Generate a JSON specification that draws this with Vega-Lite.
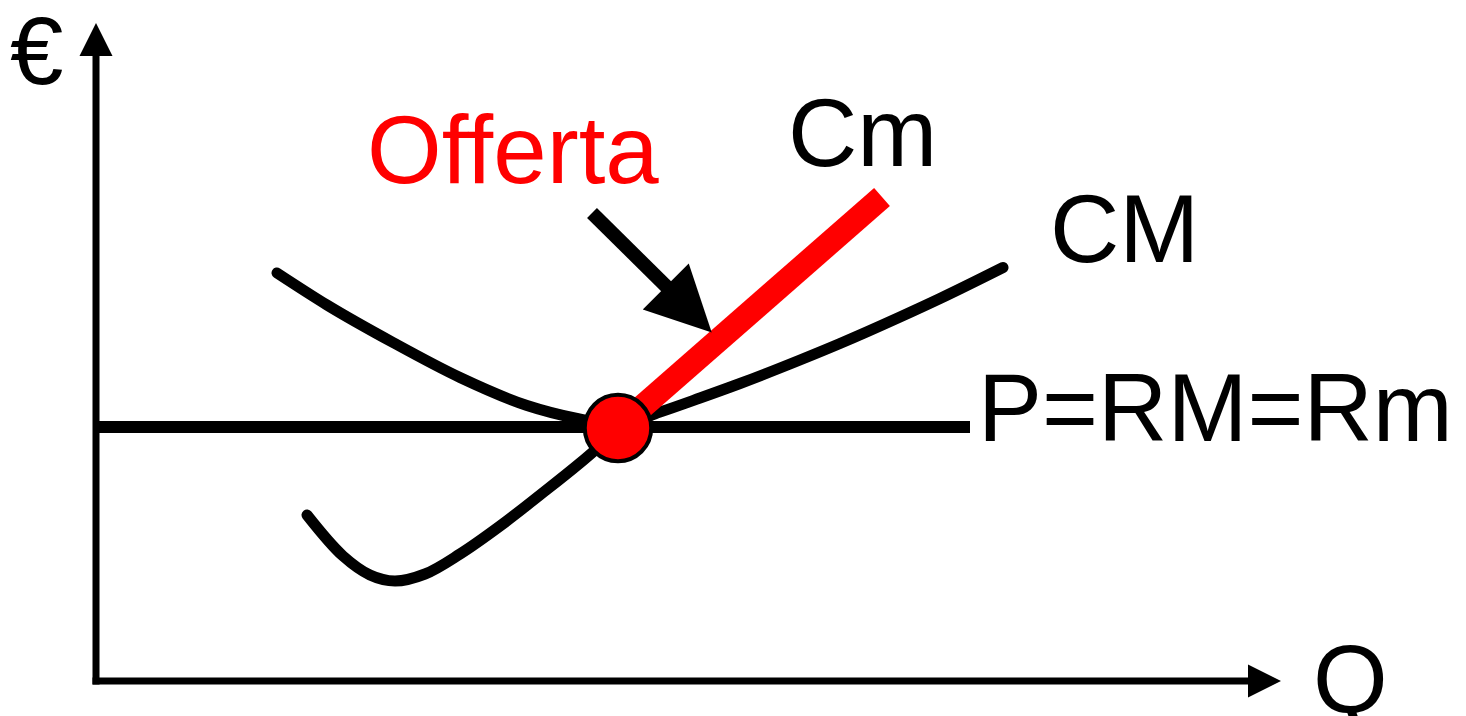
{
  "$schema": "https://vega.github.io/schema/vega-lite/v6.json",
  "width": 1466,
  "height": 716,
  "autosize": {"type": "none"},
  "padding": 0,
  "background": "white",
  "config": {"view": {"stroke": null}},
  "datasets": {
    "curves": [
      {"curve": "CM", "q": 18.2, "p": 40.8},
      {"curve": "CM", "q": 23.2, "p": 37.6},
      {"curve": "CM", "q": 29.8, "p": 33.85},
      {"curve": "CM", "q": 36.5, "p": 30.35},
      {"curve": "CM", "q": 43.2, "p": 27.55},
      {"curve": "CM", "q": 48.2, "p": 26.25},
      {"curve": "CM", "q": 52.3, "p": 25.6},
      {"curve": "CM", "q": 56.5, "p": 26.9},
      {"curve": "CM", "q": 60.5, "p": 28.3},
      {"curve": "CM", "q": 64.5, "p": 29.75},
      {"curve": "CM", "q": 70.5, "p": 32.1},
      {"curve": "CM", "q": 74.5, "p": 33.75},
      {"curve": "CM", "q": 80.5, "p": 36.4},
      {"curve": "CM", "q": 84.5, "p": 38.25},
      {"curve": "CM", "q": 90.8, "p": 41.35},
      {"curve": "Cm", "q": 21.2, "p": 16.6},
      {"curve": "Cm", "q": 24.8, "p": 12.5},
      {"curve": "Cm", "q": 27.5, "p": 10.6},
      {"curve": "Cm", "q": 30.0, "p": 10.0},
      {"curve": "Cm", "q": 33.0, "p": 10.7},
      {"curve": "Cm", "q": 36.5, "p": 12.7},
      {"curve": "Cm", "q": 40.5, "p": 15.5},
      {"curve": "Cm", "q": 44.5, "p": 18.6},
      {"curve": "Cm", "q": 48.5, "p": 21.8},
      {"curve": "Cm", "q": 52.3, "p": 25.1}
    ],
    "segments": [
      {"name": "yaxis", "q1": 0.1, "p1": 0, "q2": 0.1, "p2": 62.5},
      {"name": "xaxis", "q1": 0.1, "p1": 0, "q2": 115.5, "p2": 0},
      {"name": "price", "q1": 0, "p1": 25.4, "q2": 87.5, "p2": 25.4},
      {"name": "offerta", "q1": 52.3, "p1": 25.3, "q2": 78.7, "p2": 48.4},
      {"name": "pointer", "q1": 49.7, "p1": 46.8, "q2": 58.0, "p2": 38.6}
    ],
    "heads": [
      {"name": "yhead", "q": 0.1, "p": 64.15},
      {"name": "xhead", "q": 116.95, "p": 0},
      {"name": "pointerhead", "q": 59.375, "p": 37.15}
    ],
    "equilibrium": [
      {"q": 52.3, "p": 25.3}
    ],
    "labels": [
      {"text": "€", "q": -8.5, "p": 59.7, "red": false},
      {"text": "Q", "q": 121.8, "p": -3.2, "red": false},
      {"text": "P=RM=Rm", "q": 88.3, "p": 24.0, "red": false},
      {"text": "Cm", "q": 69.3, "p": 51.5, "red": false},
      {"text": "CM", "q": 95.5, "p": 41.9, "red": false},
      {"text": "Offerta", "q": 27.2, "p": 49.8, "red": true}
    ]
  },
  "encoding": {
    "x": {"type": "quantitative", "scale": {"domain": [-9.5, 137.1], "nice": false, "zero": false}, "axis": null},
    "y": {"type": "quantitative", "scale": {"domain": [-3.5, 68.1], "nice": false, "zero": false}, "axis": null}
  },
  "layer": [
    {
      "data": {"name": "segments"},
      "transform": [{"filter": "datum.name === 'yaxis' || datum.name === 'xaxis'"}],
      "mark": {"type": "rule", "color": "black", "strokeWidth": 7, "strokeCap": "square"},
      "encoding": {"x": {"field": "q1"}, "y": {"field": "p1"}, "x2": {"field": "q2"}, "y2": {"field": "p2"}}
    },
    {
      "data": {"name": "segments"},
      "transform": [{"filter": "datum.name === 'price'"}],
      "mark": {"type": "rule", "color": "black", "strokeWidth": 12, "strokeCap": "butt"},
      "encoding": {"x": {"field": "q1"}, "y": {"field": "p1"}, "x2": {"field": "q2"}, "y2": {"field": "p2"}}
    },
    {
      "data": {"name": "curves"},
      "mark": {"type": "line", "color": "black", "strokeWidth": 11, "interpolate": "monotone", "strokeCap": "round"},
      "encoding": {"x": {"field": "q"}, "y": {"field": "p"}, "detail": {"field": "curve"}}
    },
    {
      "data": {"name": "segments"},
      "transform": [{"filter": "datum.name === 'offerta'"}],
      "mark": {"type": "rule", "color": "#ff0000", "strokeWidth": 24, "strokeCap": "butt"},
      "encoding": {"x": {"field": "q1"}, "y": {"field": "p1"}, "x2": {"field": "q2"}, "y2": {"field": "p2"}}
    },
    {
      "data": {"name": "segments"},
      "transform": [{"filter": "datum.name === 'pointer'"}],
      "mark": {"type": "rule", "color": "black", "strokeWidth": 14, "strokeCap": "butt"},
      "encoding": {"x": {"field": "q1"}, "y": {"field": "p1"}, "x2": {"field": "q2"}, "y2": {"field": "p2"}}
    },
    {
      "data": {"name": "heads"},
      "transform": [{"filter": "datum.name === 'yhead'"}],
      "mark": {"type": "point", "shape": "M0,-1L1,1L-1,1Z", "filled": true, "color": "black", "opacity": 1, "size": 1089},
      "encoding": {"x": {"field": "q"}, "y": {"field": "p"}}
    },
    {
      "data": {"name": "heads"},
      "transform": [{"filter": "datum.name === 'xhead'"}],
      "mark": {"type": "point", "shape": "M1,0L-1,1L-1,-1Z", "filled": true, "color": "black", "opacity": 1, "size": 1089},
      "encoding": {"x": {"field": "q"}, "y": {"field": "p"}}
    },
    {
      "data": {"name": "heads"},
      "transform": [{"filter": "datum.name === 'pointerhead'"}],
      "mark": {"type": "point", "shape": "M1,0L-1,1L-1,-1Z", "filled": true, "color": "black", "opacity": 1, "size": 4225, "angle": 45},
      "encoding": {"x": {"field": "q"}, "y": {"field": "p"}}
    },
    {
      "data": {"name": "equilibrium"},
      "mark": {"type": "point", "shape": "circle", "filled": true, "fill": "#ff0000", "stroke": "black", "strokeWidth": 4, "opacity": 1, "fillOpacity": 1, "strokeOpacity": 1, "size": 4418},
      "encoding": {"x": {"field": "q"}, "y": {"field": "p"}}
    },
    {
      "data": {"name": "labels"},
      "transform": [{"filter": "!datum.red"}],
      "mark": {"type": "text", "font": "Liberation Sans", "fontSize": 96, "align": "left", "baseline": "alphabetic", "color": "black"},
      "encoding": {"x": {"field": "q"}, "y": {"field": "p"}, "text": {"field": "text"}}
    },
    {
      "data": {"name": "labels"},
      "transform": [{"filter": "datum.red"}],
      "mark": {"type": "text", "font": "Liberation Sans", "fontSize": 96, "align": "left", "baseline": "alphabetic", "color": "#ff0000"},
      "encoding": {"x": {"field": "q"}, "y": {"field": "p"}, "text": {"field": "text"}}
    }
  ]
}
